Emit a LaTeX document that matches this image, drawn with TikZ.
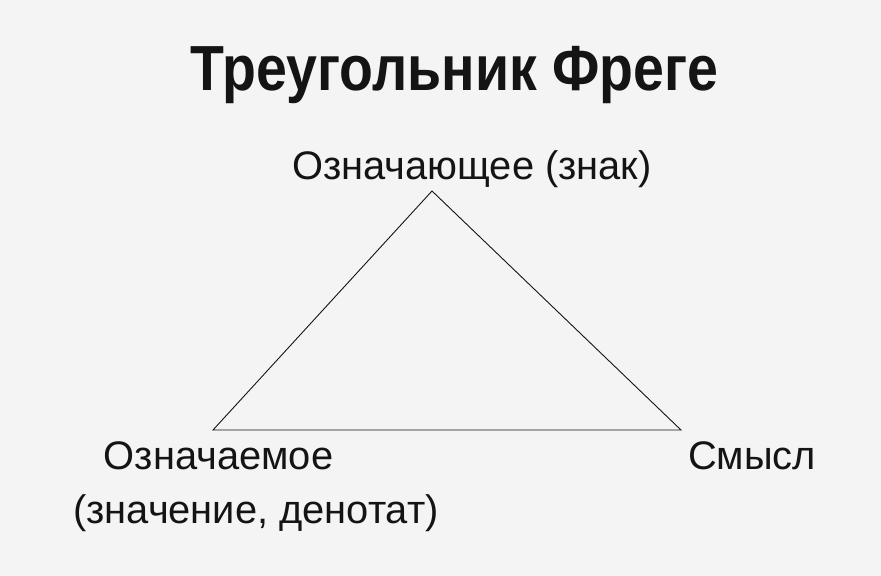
\documentclass[tikz,border=0pt]{standalone}
\usepackage{fontspec}
\setmainfont{Liberation Sans}
\definecolor{bg}{RGB}{244,244,244}
\definecolor{ink}{RGB}{20,20,20}
\tikzset{
  lbl/.style={anchor=base, inner sep=0pt, text=ink, font=\fontsize{40}{46}\selectfont},
  ttl/.style={anchor=base, inner sep=0pt, text=ink, font=\fontsize{64}{74}\selectfont\bfseries},
  edge/.style={draw=ink, line width=0.9bp}
}
\begin{document}
\begin{tikzpicture}[x=1bp,y=-1bp]
  \fill[bg] (0,0) rectangle (881,576);
  \useasboundingbox (0,0) rectangle (881,576);
  \node[ttl] (title) at (454.5,91) {\scalebox{0.87}[1]{Треугольник Фреге}};
  \coordinate (top) at (432,191);
  \coordinate (left) at (213,430);
  \coordinate (right) at (681,430);
  \draw[edge] (top) -- (left) -- (right) -- cycle;
  \node[lbl] (sign) at (472,180) {Означающее (знак)};
  \node[lbl] (ref) at (218.5,469) {Означаемое};
  \node[lbl] (ref2) at (256,523) {(значение, денотат)};
  \node[lbl] (sense) at (752,469) {Смысл};
\end{tikzpicture}
\end{document}
